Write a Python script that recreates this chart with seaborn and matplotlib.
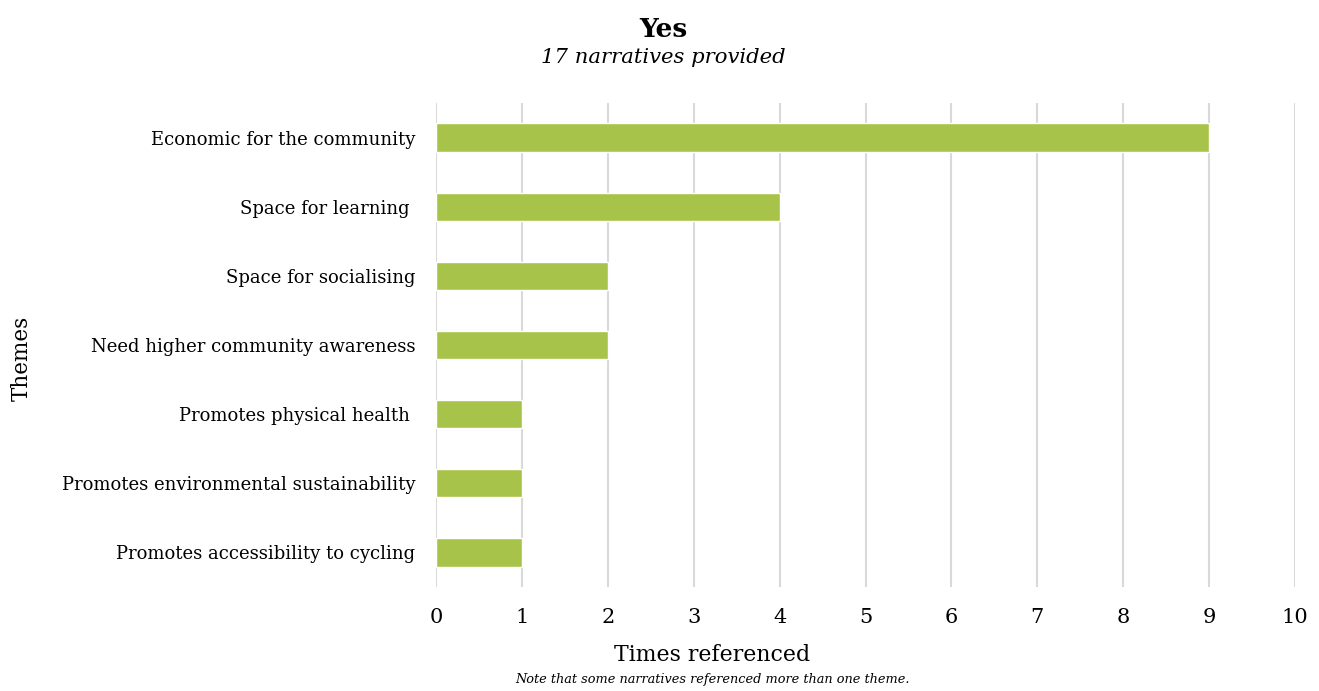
import matplotlib
matplotlib.use("Agg")
import matplotlib.pyplot as plt
import seaborn as sns
import pandas as pd

themes = ["Economic for the community", "Space for learning ", "Space for socialising",
          "Need higher community awareness", "Promotes physical health ",
          "Promotes environmental sustainability", "Promotes accessibility to cycling"]
counts = [9, 4, 2, 2, 1, 1, 1]

df = pd.DataFrame({"theme": themes, "count": counts})

sns.set_style("white")
plt.rcParams["font.family"] = ["DejaVu Serif"]
plt.rcParams["text.color"] = "black"
plt.rcParams["xtick.color"] = "black"
plt.rcParams["ytick.color"] = "black"

fig = plt.figure(figsize=(13.19, 6.91), dpi=100)
ax = fig.add_axes([0.3306, 0.1505, 0.6512, 0.7005])

sns.barplot(data=df, x="count", y="theme", color="#A8C34A", width=0.41,
            saturation=1, ax=ax, zorder=3)

ax.set_xlim(0, 10)
ax.set_ylim(6.5, -0.5)
ax.set_xticks(range(0, 11))
ax.grid(axis="x", color="#D9D9D9", linewidth=1.5, zorder=0)
ax.set_axisbelow(True)
for s in ax.spines.values():
    s.set_visible(False)
ax.tick_params(axis="x", length=0, pad=15, labelsize=15)
ax.tick_params(axis="y", length=0, pad=15, labelsize=13)
ax.set_xlabel("")
ax.set_ylabel("")

fig.text(0.54, 0.052, "Times referenced", ha="center", va="center", fontsize=15.8)
fig.text(0.0167, 0.482, "Themes", rotation=90, va="center", ha="center", fontsize=15.5)
fig.text(0.503, 0.958, "Yes", ha="center", va="center", fontsize=19, fontweight="bold")
fig.text(0.503, 0.917, "17 narratives provided", ha="center", va="center", fontsize=15.2,
         style="italic")
fig.text(0.54, 0.016, "Note that some narratives referenced more than one theme.",
         ha="center", va="center", fontsize=9.3, style="italic")

fig.savefig("out.png", dpi=100)
